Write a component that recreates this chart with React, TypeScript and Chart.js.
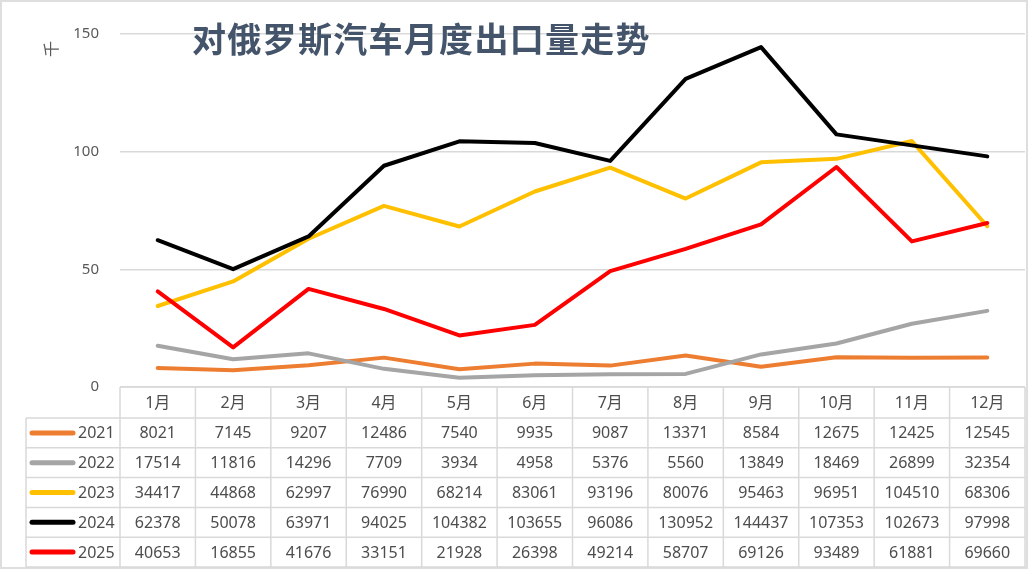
import React, { useEffect, useRef } from "react";
import { Chart, registerables } from "chart.js";

Chart.register(...registerables);

const months = ["1月", "2月", "3月", "4月", "5月", "6月", "7月", "8月", "9月", "10月", "11月", "12月"];
const years = ["2021", "2022", "2023", "2024", "2025"];
const s2021 = [8021, 7145, 9207, 12486, 7540, 9935, 9087, 13371, 8584, 12675, 12425, 12545];
const s2022 = [17514, 11816, 14296, 7709, 3934, 4958, 5376, 5560, 13849, 18469, 26899, 32354];
const s2023 = [34417, 44868, 62997, 76990, 68214, 83061, 93196, 80076, 95463, 96951, 104510, 68306];
const s2024 = [62378, 50078, 63971, 94025, 104382, 103655, 96086, 130952, 144437, 107353, 102673, 97998];
const s2025 = [40653, 16855, 41676, 33151, 21928, 26398, 49214, 58707, 69126, 93489, 61881, 69660];
const seriesValues = [s2021, s2022, s2023, s2024, s2025];
const colors = ["#ED7D31", "#A5A5A5", "#FFC000", "#000000", "#FF0000"];
const yTicks = [0, 50, 100, 150];
const titleText = "对俄罗斯汽车月度出口量走势";
const unitText = "千";

const GRID = "#d9d9d9";
const TEXT = "#4d4d4d";
const NUM_FONT = "'Noto Sans', 'Noto Sans CJK SC', sans-serif";
const CJK_FONT = "'Noto Sans CJK SC', 'Noto Sans', sans-serif";

const decorPlugin = {
  id: "decor",
  afterDraw(chart: any) {
    const ctx = chart.ctx as CanvasRenderingContext2D;
    const area = chart.chartArea;
    const left = area.left;
    const right = area.right;
    const top = area.bottom;
    const colW = (right - left) / months.length;
    const headerH = 31;
    const rowH = 29.8;
    const tableLeft = 26;
    const bottom = top + headerH + rowH * years.length;

    ctx.save();
    // frame
    ctx.strokeStyle = "#dedede";
    ctx.lineWidth = 2;
    ctx.strokeRect(1, 1, 1026, 567);

    // table grid
    ctx.strokeStyle = GRID;
    ctx.lineWidth = 1.5;
    const line = (x1: number, y1: number, x2: number, y2: number) => {
      ctx.beginPath();
      ctx.moveTo(x1, y1);
      ctx.lineTo(x2, y2);
      ctx.stroke();
    };
    line(left, top, right, top);
    for (let r = 0; r <= years.length; r++) {
      const y = top + headerH + r * rowH;
      line(tableLeft, y, right, y);
    }
    for (let i = 0; i <= months.length; i++) {
      const x = left + i * colW;
      line(x, top, x, bottom);
    }
    line(tableLeft, top + headerH, tableLeft, bottom);

    // header
    const xs = chart.scales.x;
    ctx.fillStyle = TEXT;
    ctx.textAlign = "center";
    ctx.textBaseline = "middle";
    ctx.font = `16px ${NUM_FONT}`;
    months.forEach((m, i) => {
      ctx.fillText(m, xs.getPixelForValue(i), top + headerH / 2 + 1);
    });

    // rows
    years.forEach((yr, r) => {
      const cy = top + headerH + r * rowH + rowH / 2 + 1;
      ctx.strokeStyle = colors[r];
      ctx.lineWidth = 5;
      ctx.lineCap = "round";
      ctx.beginPath();
      ctx.moveTo(32, cy - 1);
      ctx.lineTo(73, cy - 1);
      ctx.stroke();
      ctx.fillStyle = TEXT;
      ctx.textAlign = "left";
      ctx.font = `16px ${NUM_FONT}`;
      ctx.fillText(yr, 78, cy);
      ctx.textAlign = "center";
      seriesValues[r].forEach((v, i) => {
        ctx.fillText(String(v), xs.getPixelForValue(i), cy);
      });
    });

    // title
    ctx.save();
    ctx.fillStyle = "#44546A";
    ctx.textAlign = "left";
    ctx.textBaseline = "middle";
    ctx.font = `bold 34px ${CJK_FONT}`;
    (ctx as any).letterSpacing = "1.3px";
    ctx.fillText(titleText, 192, 39);
    ctx.restore();

    // unit axis title
    ctx.save();
    ctx.translate(51, 49);
    ctx.rotate(-Math.PI / 2);
    ctx.fillStyle = "#595959";
    ctx.font = `16px ${CJK_FONT}`;
    ctx.textAlign = "center";
    ctx.textBaseline = "middle";
    ctx.fillText(unitText, 0, 0);
    ctx.restore();

    ctx.restore();
  },
};

export default function App() {
  const ref = useRef<HTMLCanvasElement | null>(null);
  useEffect(() => {
    if (!ref.current) return;
    const chart = new Chart(ref.current, {
      type: "line",
      data: {
        labels: months,
        datasets: years.map((yr, i) => ({
          label: yr,
          data: seriesValues[i].map((v) => v / 1000),
          borderColor: colors[i],
          backgroundColor: colors[i],
          borderWidth: 4,
          pointRadius: 0,
          tension: 0,
          borderCapStyle: "round" as const,
          borderJoinStyle: "round" as const,
          order: years.length - i,
        })),
      },
      options: {
        animation: false,
        responsive: false,
        devicePixelRatio: 1,
        layout: { padding: { left: 0, right: 3, top: 34, bottom: 182 } },
        plugins: {
          legend: { display: false },
          title: { display: false },
          tooltip: { enabled: false },
        },
        scales: {
          x: {
            type: "category",
            offset: true,
            display: false,
          },
          y: {
            min: 0,
            max: 150,
            afterFit: (scale: any) => {
              scale.width = 120;
            },
            afterBuildTicks: (scale: any) => {
              scale.ticks = yTicks.map((v) => ({ value: v }));
            },
            border: { display: false },
            grid: { color: GRID, lineWidth: 1.5, drawTicks: false },
            ticks: {
              padding: 21,
              color: "#595959",
              font: { size: 15, family: NUM_FONT },
            },
          },
        },
      },
      plugins: [decorPlugin],
    });
    return () => chart.destroy();
  }, []);
  return (
    <div style={{ position: "absolute", left: 0, top: 0, width: 1028, height: 569, background: "#fff" }}>
      <canvas ref={ref} width={1028} height={569} style={{ display: "block" }} />
    </div>
  );
}
